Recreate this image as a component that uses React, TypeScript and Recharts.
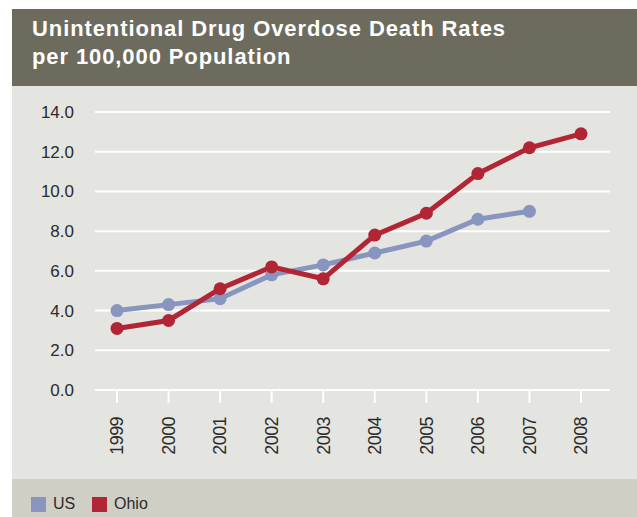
import React from 'react';
import { LineChart, Line, XAxis, YAxis, CartesianGrid } from 'recharts';

const years = ['1999', '2000', '2001', '2002', '2003', '2004', '2005', '2006', '2007', '2008'];
const usRates = [4.0, 4.3, 4.6, 5.8, 6.3, 6.9, 7.5, 8.6, 9.0, null];
const ohioRates = [3.1, 3.5, 5.1, 6.2, 5.6, 7.8, 8.9, 10.9, 12.2, 12.9];
const yTicks = [0, 2, 4, 6, 8, 10, 12, 14];

const US_COLOR = '#8795bf';
const OHIO_COLOR = '#b12535';
const FONT = '"Liberation Sans", Arial, Helvetica, sans-serif';

const chartData = years.map((year, i) => ({
  year,
  us: usRates[i],
  ohio: ohioRates[i],
}));

const YearTick = (props: any) => {
  const { x, y, payload } = props;
  return (
    <text
      transform={`translate(${x},${y + 14}) rotate(-90)`}
      textAnchor="end"
      dy="0.35em"
      fill="#2b2b2b"
      fontSize={18}
      letterSpacing={-0.6}
      fontFamily={FONT}
    >
      {payload.value}
    </text>
  );
};

const LegendItem = ({ color, label, left }: { color: string; label: string; left: number }) => (
  <div style={{ position: 'absolute', left, top: 16, display: 'flex', alignItems: 'center' }}>
    <div style={{ width: 15, height: 15, background: color }} />
    <span style={{ marginLeft: 7, fontSize: 16, color: '#2b2b2b', fontFamily: FONT }}>{label}</span>
  </div>
);

export default function App() {
  return (
    <div style={{ position: 'absolute', left: 0, top: 0, width: 637, height: 517, background: '#fff', overflow: 'hidden' }}>
      {/* title bar */}
      <div style={{ position: 'absolute', left: 12, top: 9, width: 625, height: 77, background: '#6d6b5d' }}>
        <div
          style={{
            position: 'absolute',
            left: 20,
            top: 6,
            color: '#fff',
            fontFamily: FONT,
            fontWeight: 'bold',
            fontSize: 22,
            letterSpacing: 0.9,
            lineHeight: '27.5px',
            whiteSpace: 'nowrap',
          }}
        >
          Unintentional Drug Overdose Death Rates
          <br />
          per 100,000 Population
        </div>
      </div>

      {/* chart panel */}
      <div style={{ position: 'absolute', left: 12, top: 86, width: 625, height: 393, background: '#e4e4e0' }} />
      <div style={{ position: 'absolute', left: 0, top: 86 }}>
        <LineChart width={637} height={393} data={chartData} margin={{ top: 26, right: 27, bottom: 0, left: 0 }}>
          <CartesianGrid vertical={false} stroke="#ffffff" strokeWidth={2} />
          <XAxis
            dataKey="year"
            padding={{ left: 22, right: 29 }}
            axisLine={false}
            tickLine={{ stroke: '#ffffff', strokeWidth: 2 }}
            tickSize={13}
            tickMargin={0}
            height={89}
            interval={0}
            tick={<YearTick />}
          />
          <YAxis
            domain={[0, 14]}
            ticks={yTicks}
            width={95}
            axisLine={false}
            tickLine={false}
            tickSize={0}
            tickMargin={21}
            tickFormatter={(v: number) => v.toFixed(1)}
            tick={{ fill: '#2b2b2b', fontSize: 17, fontFamily: FONT }}
          />
          <Line
            dataKey="us"
            stroke={US_COLOR}
            strokeWidth={5}
            dot={{ r: 6.5, fill: US_COLOR, stroke: 'none' }}
            activeDot={false}
            isAnimationActive={false}
          />
          <Line
            dataKey="ohio"
            stroke={OHIO_COLOR}
            strokeWidth={5}
            dot={{ r: 6.5, fill: OHIO_COLOR, stroke: 'none' }}
            activeDot={false}
            isAnimationActive={false}
          />
        </LineChart>
      </div>

      {/* legend band */}
      <div style={{ position: 'absolute', left: 12, top: 479, width: 625, height: 38, background: '#d0cfc6' }}>
        <LegendItem color={US_COLOR} label="US" left={19} />
        <LegendItem color={OHIO_COLOR} label="Ohio" left={80} />
      </div>
    </div>
  );
}
